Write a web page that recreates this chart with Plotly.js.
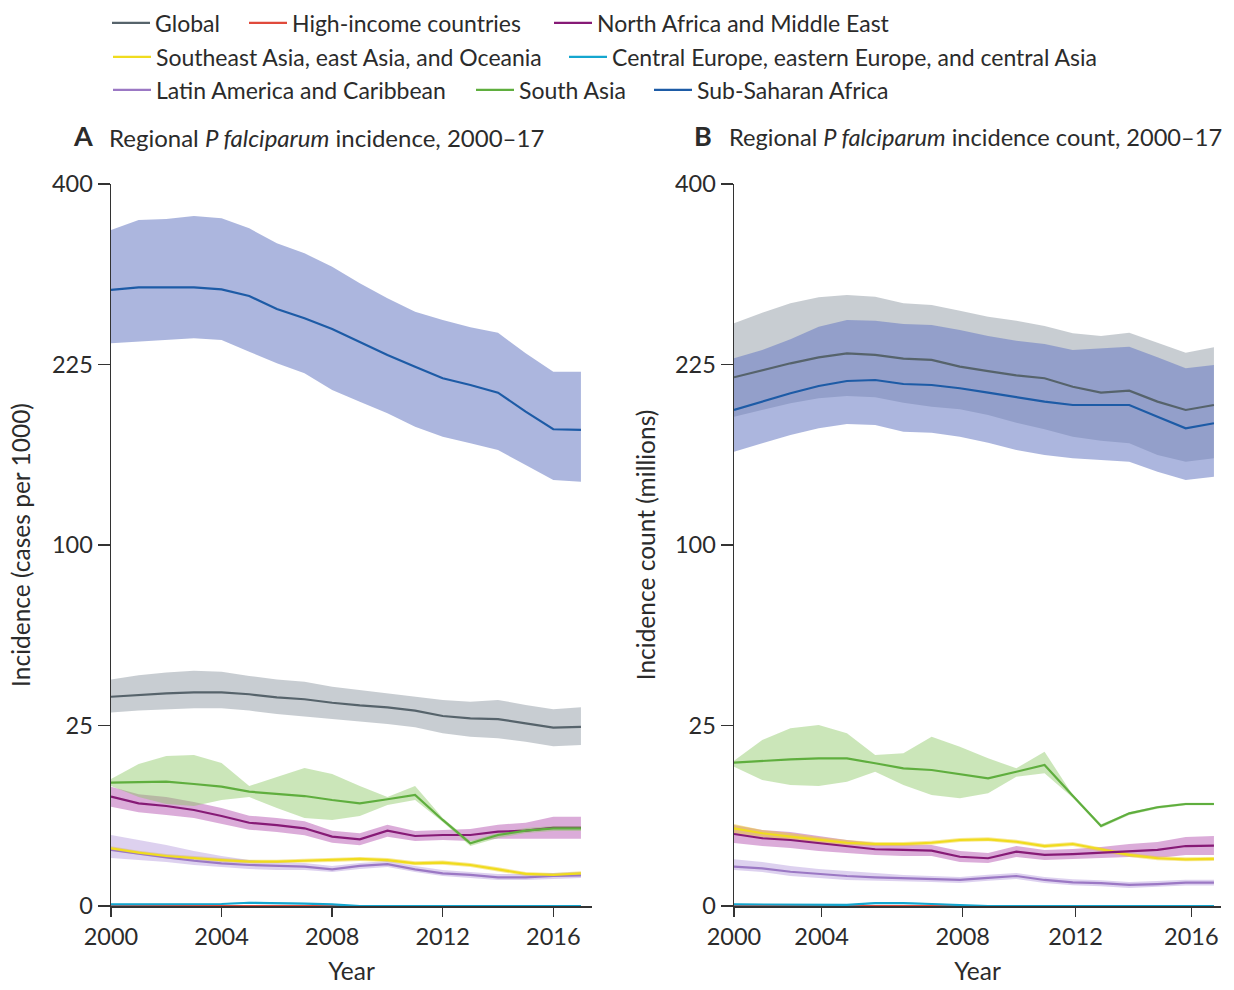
<!DOCTYPE html>
<html>
<head>
<meta charset="utf-8">
<script src="https://cdn.plot.ly/plotly-3.0.1.min.js"></script>
<style>html,body{margin:0;padding:0;background:#fff;}#chart{width:1234px;height:990px;}</style>
</head>
<body>
<div id="chart"></div>
<script>
// ---------- data ----------
const years = [2000,2001,2002,2003,2004,2005,2006,2007,2008,2009,2010,2011,2012,2013,2014,2015,2016,2017];
const xTicksA = [2000,2004,2008,2012,2016];
const xTickPosB = [2000,2003.1,2008.1,2012.1,2016.2];
const xTickTextB = ['2000','2004','2008','2012','2016'];
const yTickLabels = [0,25,100,225,400];

// Panel A: incidence (cases per 1000)
const globalA    = [33.6,34.2,34.7,35.0,35.0,34.4,33.4,32.8,31.7,30.9,30.3,29.3,27.7,27.0,26.8,25.6,24.4,24.6];
const globalA_hi = [39.4,40.9,41.8,42.5,42.1,40.6,39.4,38.6,36.9,35.8,34.7,33.6,32.6,32.0,32.6,31.0,29.7,30.3];
const globalA_lo = [28.7,29.3,29.7,30.0,30.0,29.3,28.3,27.5,26.7,26.1,25.4,24.5,22.9,22.0,21.6,20.7,19.6,19.9];
const ssaA    = [291.2,293.7,293.7,293.7,291.8,285.5,273.5,265.0,255.5,243.8,233.0,223.2,213.7,208.3,202.2,187.5,174.4,173.9];
const ssaA_hi = [350.7,361.1,362.2,365.3,362.9,352.4,337.0,326.9,313.6,297.5,283.4,271.0,263.5,257.0,252.2,234.4,219.1,219.1];
const ssaA_lo = [243.0,244.3,245.8,247.3,245.8,235.8,226.0,217.7,204.3,195.2,186.3,176.3,169.0,164.3,159.6,149.2,139.3,138.1];
const saA    = [11.67,11.74,11.86,11.42,10.92,10.03,9.63,9.28,8.62,8.09,8.74,9.45,5.68,3.02,3.87,4.35,4.63,4.63];
const saA_hi = [12.38,15.47,17.27,17.50,15.69,11.05,12.77,14.61,13.37,11.05,9.12,11.05,5.94,3.24,4.09,4.67,4.91,4.91];
const saA_lo = [11.05,9.12,7.98,7.67,8.62,9.12,7.37,5.94,5.68,6.22,7.83,8.62,5.41,2.76,3.55,4.09,4.32,4.32];
const nameA    = [9.17,8.09,7.67,7.07,6.22,5.32,5.03,4.63,3.69,3.41,4.35,3.76,3.87,3.87,4.24,4.35,4.70,4.70];
const nameA_hi = [10.92,9.57,9.12,8.30,7.37,6.26,5.94,5.50,4.35,4.06,5.07,4.32,4.43,4.55,5.07,5.32,6.12,6.12];
const nameA_lo = [7.57,6.74,6.35,5.94,5.16,4.47,4.20,3.84,3.07,2.83,3.69,3.24,3.34,3.24,3.48,3.48,3.48,3.48];
const seaA    = [2.55,2.18,1.92,1.75,1.62,1.51,1.51,1.57,1.62,1.70,1.62,1.40,1.44,1.29,1.03,0.79,0.74,0.82];
const seaA_hi = [2.73,2.35,2.08,1.90,1.76,1.65,1.65,1.71,1.76,1.85,1.76,1.53,1.58,1.42,1.15,0.89,0.84,0.92];
const seaA_lo = [2.37,2.02,1.77,1.61,1.48,1.38,1.38,1.43,1.48,1.56,1.48,1.27,1.31,1.17,0.92,0.69,0.65,0.72];
const latA    = [2.41,2.13,1.82,1.57,1.40,1.29,1.23,1.19,1.03,1.23,1.35,1.03,0.82,0.74,0.63,0.63,0.69,0.72];
const latA_hi = [3.87,3.34,2.86,2.32,1.92,1.62,1.49,1.42,1.23,1.42,1.55,1.23,0.99,0.89,0.79,0.79,0.84,0.89];
const latA_lo = [1.77,1.62,1.49,1.29,1.17,1.05,0.99,0.99,0.89,1.05,1.17,0.89,0.69,0.60,0.52,0.52,0.56,0.60];
const ceA    = [0.002,0.002,0.002,0.002,0.003,0.008,0.007,0.004,0.002,0,0,0,0,0,0,0,0,0];
const ceA_hi = [0.004,0.004,0.004,0.004,0.006,0.014,0.012,0.007,0.004,0,0,0,0,0,0,0,0,0];
const hiA    = [0,0,0,0,0,0,0,0,0,0,0,0,0,0,0,0,0,0];

// Panel B: incidence count (millions)
const globalB    = [214.5,220.5,226.0,231.0,234.4,233.0,229.9,228.8,223.2,219.6,216.1,213.7,206.9,202.2,203.8,195.2,188.8,192.6];
const globalB_hi = [260.5,270.1,278.7,284.3,286.5,284.9,278.7,277.2,271.9,266.5,262.9,258.1,251.7,249.3,252.2,243.5,234.9,239.5];
const globalB_lo = [183.7,188.8,193.9,197.8,199.6,198.6,194.4,191.3,189.3,185.0,179.2,174.4,169.0,166.1,164.3,156.1,151.5,153.8];
const ssaB    = [188.8,195.2,201.7,207.5,211.5,212.3,209.1,208.3,205.7,202.2,198.6,195.2,192.6,192.6,192.6,183.7,175.1,178.8];
const ssaB_hi = [230.2,237.2,246.4,257.5,263.5,262.9,259.9,259.0,254.6,249.3,245.2,242.4,237.2,238.7,240.0,231.0,221.9,224.6];
const ssaB_lo = [158.4,164.3,170.2,175.1,178.3,177.5,172.6,171.9,169.0,164.7,159.6,156.1,153.8,152.6,151.5,144.7,139.3,141.4];
const saB    = [15.76,16.20,16.51,16.74,16.74,15.63,14.55,14.19,13.37,12.51,13.84,15.26,9.34,4.91,6.59,7.48,7.98,7.98];
const saB_hi = [16.20,21.14,24.23,25.14,22.89,17.50,17.89,21.99,19.47,16.74,14.55,18.27,9.45,5.12,6.74,7.67,8.19,8.19];
const saB_lo = [14.89,12.18,11.23,11.05,11.86,13.84,11.23,9.45,8.90,9.75,12.83,13.51,9.00,4.70,6.35,7.26,7.78,7.78];
const nameB    = [3.98,3.52,3.34,3.02,2.70,2.47,2.41,2.35,1.86,1.75,2.26,2.00,2.07,2.18,2.35,2.41,2.76,2.79];
const nameB_hi = [5.03,4.43,4.20,3.76,3.34,3.05,2.95,2.86,2.32,2.16,2.76,2.41,2.49,2.67,2.95,3.14,3.65,3.76];
const nameB_lo = [3.05,2.76,2.58,2.32,2.16,2.00,1.92,1.92,1.49,1.42,1.84,1.62,1.70,1.77,1.84,1.77,2.00,2.00];
const seaB    = [4.63,4.06,3.69,3.34,3.07,2.95,2.95,3.07,3.34,3.41,3.17,2.76,2.95,2.47,2.00,1.75,1.67,1.70];
const seaB_hi = [5.16,4.43,4.09,3.65,3.34,3.14,3.14,3.27,3.55,3.62,3.37,2.95,3.14,2.64,2.16,1.90,1.82,1.84];
const seaB_lo = [4.09,3.65,3.34,3.05,2.86,2.76,2.76,2.88,3.14,3.21,2.98,2.58,2.76,2.30,1.84,1.60,1.53,1.55];
const latB    = [1.19,1.09,0.90,0.79,0.69,0.63,0.59,0.56,0.52,0.61,0.69,0.52,0.43,0.40,0.34,0.37,0.42,0.42];
const latB_hi = [1.67,1.49,1.23,1.05,0.94,0.84,0.74,0.69,0.65,0.75,0.84,0.65,0.55,0.51,0.44,0.48,0.53,0.53];
const latB_lo = [0.99,0.89,0.69,0.60,0.52,0.48,0.46,0.44,0.41,0.49,0.56,0.41,0.33,0.30,0.25,0.28,0.32,0.32];
const ceB    = [0.002,0.002,0.002,0.001,0.001,0.006,0.006,0.003,0.001,0,0,0,0,0,0,0,0,0];
const ceB_hi = [0.004,0.004,0.004,0.002,0.002,0.011,0.011,0.006,0.002,0,0,0,0,0,0,0,0,0];
const hiB    = [0,0,0,0,0,0,0,0,0,0,0,0,0,0,0,0,0,0];

// ---------- styling ----------
const FONT = 'Lato, "Open Sans", Roboto, sans-serif';
const TXT = '#2b2b2b';
const regions = [
  {name:'Global', line:'#56636b', fill:'rgba(145,155,165,0.5)'},
  {name:'High-income countries', line:'#e04a3b', fill:'rgba(224,74,59,0.3)'},
  {name:'North Africa and Middle East', line:'#861a76', fill:'rgba(176,70,170,0.45)'},
  {name:'Southeast Asia, east Asia, and Oceania', line:'#f0dc1e', fill:'rgba(240,205,20,0.45)'},
  {name:'Central Europe, eastern Europe, and central Asia', line:'#14a6cf', fill:'rgba(20,166,207,0.3)'},
  {name:'Latin America and Caribbean', line:'#9b78c4', fill:'rgba(170,140,215,0.4)'},
  {name:'South Asia', line:'#5fae3e', fill:'rgba(140,200,100,0.45)'},
  {name:'Sub-Saharan Africa', line:'#1d5ba6', fill:'rgba(104,122,195,0.55)'}
];
const panelA = [
  [globalA, globalA_hi, globalA_lo],
  [hiA, null, null],
  [nameA, nameA_hi, nameA_lo],
  [seaA, seaA_hi, seaA_lo],
  [ceA, ceA_hi, ceA],
  [latA, latA_hi, latA_lo],
  [saA, saA_hi, saA_lo],
  [ssaA, ssaA_hi, ssaA_lo]
];
const panelB = [
  [globalB, globalB_hi, globalB_lo],
  [hiB, null, null],
  [nameB, nameB_hi, nameB_lo],
  [seaB, seaB_hi, seaB_lo],
  [ceB, ceB_hi, ceB],
  [latB, latB_hi, latB_lo],
  [saB, saB_hi, saB_lo],
  [ssaB, ssaB_hi, ssaB_lo]
];
// square-root axis scale
const sq = a => a.map(v => Math.sqrt(v));

const traces = [];
function addBands(panel, xa, ya) {
  panel.forEach((d, i) => {
    if (!d[1]) return;
    traces.push({
      type:'scatter', mode:'lines', xaxis:xa, yaxis:ya,
      x: years.concat(years.slice().reverse()),
      y: sq(d[1]).concat(sq(d[2]).reverse()),
      fill:'toself', fillcolor: regions[i].fill,
      line:{width:0}, showlegend:false, hoverinfo:'skip'
    });
  });
}
function addLines(panel, xa, ya, withLegend) {
  const order = [1,4,5,3,2,6,0,7];
  order.forEach(i => {
    const t = {
      type:'scatter', mode:'lines', xaxis:xa, yaxis:ya,
      x: years, y: sq(panel[i][0]), name: regions[i].name,
      line:{color: regions[i].line, width:2.2},
      showlegend: withLegend
    };
    if (withLegend) t.legend = i === 0 ? 'legend' : 'legend' + (i + 1);
    traces.push(t);
  });
}
addBands(panelA, 'x', 'y');
addBands(panelB, 'x2', 'y2');
addLines(panelA, 'x', 'y', true);
addLines(panelB, 'x2', 'y2', false);

// geometry (pixels in the 1234 x 990 page)
const L = 111, R = 13, T = 184, B = 84;
const PW = 1234 - L - R, PH = 990 - T - B;
const px = x => (x - L) / PW;
const py = y => (990 - B - y) / PH;

const axisCommon = {
  showline:true, linecolor:'#333', linewidth:1.5, showgrid:false, zeroline:false,
  ticks:'outside', tickcolor:'#333', tickwidth:1.5,
  tickfont:{family:FONT, size:23.5, color:TXT}, fixedrange:true
};
const titleFont = {family:FONT, size:24.5, color:TXT};
const xA = Object.assign({}, axisCommon, {
  domain:[0, px(592)], range:[2000, 2017.4], tickvals:xTicksA, ticktext:xTicksA.map(String), ticklen:9,
  anchor:'y', title:{text:'Year', font:titleFont, standoff:14}
});
const xB = Object.assign({}, axisCommon, {
  domain:[px(734), 1], range:[2000, 2017.25], tickvals:xTickPosB, ticktext:xTickTextB, ticklen:9,
  anchor:'y2', title:{text:'Year', font:titleFont, standoff:14}
});
const yCommon = {
  range:[0, 20], tickvals: sq(yTickLabels), ticktext: yTickLabels.map(String), ticklen:12
};
const yA = Object.assign({}, axisCommon, yCommon, {
  domain:[0,1], anchor:'x', title:{text:'Incidence (cases per 1000)', font:titleFont, standoff:14}
});
const yB = Object.assign({}, axisCommon, yCommon, {
  domain:[0,1], anchor:'x2', title:{text:'Incidence count (millions)', font:titleFont, standoff:12}
});

// legend positions: [line start px, row centre px]
const legendPos = [[112,23],[249,23],[554,23],[113,57],[569,57],[113,90],[476,90],[654,90]];
const ITEMW = 38;
const layout = {
  width:1234, height:990,
  margin:{l:L, r:R, t:T, b:B, autoexpand:false},
  paper_bgcolor:'#fff', plot_bgcolor:'#fff',
  font:{family:FONT, color:TXT},
  xaxis:xA, yaxis:yA, xaxis2:xB, yaxis2:yB,
  annotations:[
    {text:'<b>A</b>', x:px(71), y:py(136), xref:'paper', yref:'paper', xanchor:'left', yanchor:'middle', showarrow:false, font:{family:FONT, size:27, color:TXT}},
    {text:'Regional <i>P falciparum</i> incidence, 2000–17', x:px(107), y:py(137), xref:'paper', yref:'paper', xanchor:'left', yanchor:'middle', showarrow:false, font:{family:FONT, size:24, color:TXT}},
    {text:'<b>B</b>', x:px(692), y:py(136), xref:'paper', yref:'paper', xanchor:'left', yanchor:'middle', showarrow:false, font:{family:FONT, size:27, color:TXT}},
    {text:'Regional <i>P falciparum</i> incidence count, 2000–17', x:px(727), y:py(137), xref:'paper', yref:'paper', xanchor:'left', yanchor:'middle', showarrow:false, font:{family:FONT, size:23.6, color:TXT}}
  ]
};
legendPos.forEach((p, i) => {
  const key = i === 0 ? 'legend' : 'legend' + (i + 1);
  layout[key] = {
    x: px(p[0] - 5), y: py(p[1]), xanchor:'left', yanchor:'middle', orientation:'h',
    itemwidth: ITEMW,
    bgcolor:'rgba(0,0,0,0)', borderwidth:0, font:{family:FONT, size:23, color:TXT}
  };
});

Plotly.newPlot('chart', traces, layout, {displayModeBar:false, staticPlot:true});
</script>
</body>
</html>
